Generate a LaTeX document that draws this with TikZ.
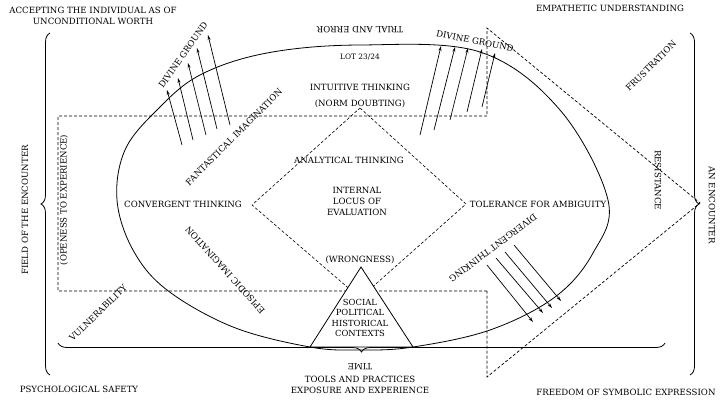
\documentclass[tikz,border=0pt]{standalone}
\usepackage{fontspec}
\setmainfont{DejaVu Serif}
\usetikzlibrary{decorations.pathreplacing,arrows.meta}
\begin{document}
\begin{tikzpicture}[x=1pt,y=-1pt,
  lab/.style={font=\fontsize{8.6}{11}\selectfont,align=center,inner sep=1pt},
  dsh/.style={densely dashed,line width=0.7pt},
  arr/.style={-{Stealth[length=5pt,width=3pt]},line width=0.7pt},
  br/.style={decorate,decoration={brace,amplitude=9pt},line width=0.8pt}]
\useasboundingbox (0,0) rectangle (720,405);
% egg
\draw[line width=0.8pt] plot[smooth cycle,tension=0.6] coordinates {(310,347) (233,327) (167,290) (133,250) (117,200) (125,150) (157,110) (200,75) (267,53) (360,45) (480,52) (560,110) (608,200) (593,253) (555,297) (490,330) (413,347) (361,350)};
% dashed frame
\coordinate (r1) at (58,116); \coordinate (r2) at (487,116); \coordinate (r3) at (487,28);
\coordinate (tip) at (700,203); \coordinate (r4) at (487,377); \coordinate (r5) at (487,291);
\coordinate (r6) at (58,291);
\draw[dsh] (r5) -- (r6) -- (r1) -- (r2) -- (r3) -- (tip) -- (r4) -- (r5);
% diamond
\coordinate (dt) at (360,108); \coordinate (dl) at (252,205); \coordinate (dr) at (466,204); \coordinate (db) at (360,298);
\draw[dsh,line width=0.6pt] (dt) -- (dr) -- (db) -- (dl) -- cycle;
% triangle
\coordinate (ta) at (361,267); \coordinate (tb) at (413,347); \coordinate (tc) at (310,347);
\draw[line width=0.8pt,fill=white] (ta) -- (tb) -- (tc) -- cycle;
% braces
\draw[br] (50,375) -- (50,33);
\draw[br] (690,33) -- (690,375);
\draw[br] (665,343) -- (58,343);
% arrows
\foreach \a/\b/\c/\d in {182/145/167/90, 193/140/178/78, 206/135/188/63, 217/129/197/48, 230/125/208/35}
  \draw[arr] (\a,\b) -- (\c,\d);
\foreach \a/\b/\c/\d in {420/135/441/46, 434/130/455/47, 450/120/468/48, 467/112/482/49, 482/107/495/53}
  \draw[arr] (\a,\b) -- (\c,\d);
\foreach \a/\b/\c/\d in {487/265/533/322, 496/258/543/313, 505/252/552/308, 514/245/561/301}
  \draw[arr] (\a,\b) -- (\c,\d);
% texts
\node[lab] (t1) at (93,16) {ACCEPTING THE INDIVIDUAL AS OF\\UNCONDITIONAL WORTH};
\node[lab] (t2) at (610,8) {EMPATHETIC UNDERSTANDING};
\node[lab,rotate=180] (t3) at (360,30) {TRIAL AND ERROR};
\node[lab,font=\fontsize{7.4}{9}\selectfont] (t4) at (360,57) {LOT 23/24};
\node[lab] (t5) at (360,87) {INTUITIVE THINKING};
\node[lab] (t6) at (360,104) {(NORM DOUBTING)};
\node[lab] (t7) at (349,160) {ANALYTICAL THINKING};
\node[lab] (t8) at (357,201) {INTERNAL\\LOCUS OF\\EVALUATION};
\node[lab] (t9) at (183,204) {CONVERGENT THINKING};
\node[lab] (t10) at (538,204) {TOLERANCE FOR AMBIGUITY};
\node[lab] (t11) at (360,260) {(WRONGNESS)};
\node[lab,font=\fontsize{8.4}{10.2}\selectfont] (t12) at (360,318) {SOCIAL\\POLITICAL\\HISTORICAL\\CONTEXTS};
\node[lab,rotate=180] (t13) at (360,367) {TIME};
\node[lab] (t14) at (360,385) {TOOLS AND PRACTICES\\EXPOSURE AND EXPERIENCE};
\node[lab] (t15) at (79,389) {PSYCHOLOGICAL SAFETY};
\node[lab] (t16) at (626,392) {FREEDOM OF SYMBOLIC EXPRESSION};
\node[lab,rotate=90] (t17) at (25,210) {FIELD OF THE ENCOUNTER};
\node[lab,rotate=90] (t18) at (64,200) {(OPENESS TO EXPERIENCE)};
\node[lab,rotate=-90] (t19) at (712,205) {AN ENCOUNTER};
\node[lab,rotate=-90] (t20) at (658,180) {RESISTANCE};
\node[lab,rotate=45] (t21) at (651,66) {FRUSTRATION};
\node[lab,rotate=55] (t22) at (183,55) {DIVINE GROUND};
\node[lab,rotate=-11] (t23) at (475,41) {DIVINE GROUND};
\node[lab,rotate=45] (t24) at (234,137) {FANTASTICAL IMAGINATION};
\node[lab,rotate=132] (t25) at (225,270) {EPISODIC IMAGINATION};
\node[lab,rotate=217] (t26) at (493,248) {DIVERGENT THINKING};
\node[lab,rotate=44] (t27) at (98,313) {VULNERABILITY};
\end{tikzpicture}
\end{document}
